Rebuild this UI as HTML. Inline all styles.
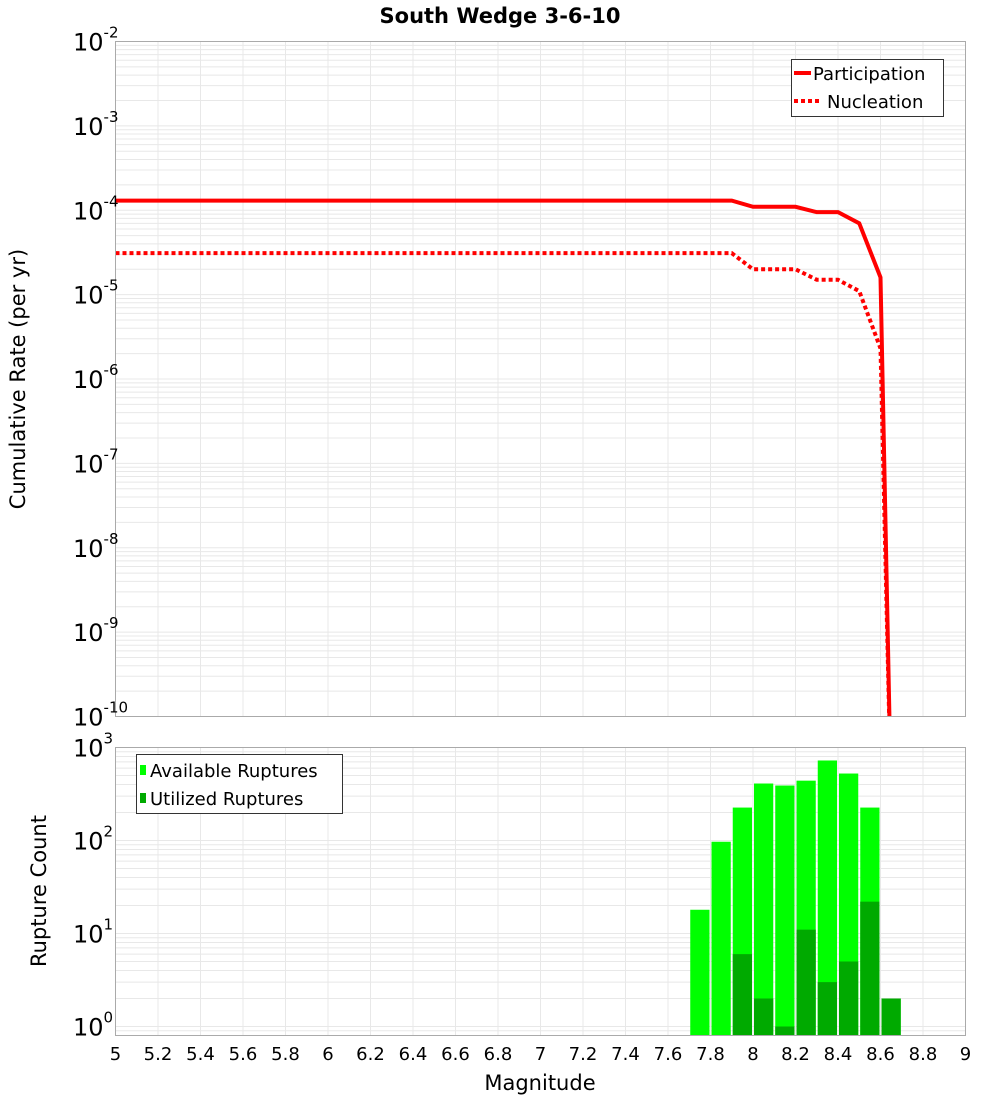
<!DOCTYPE html>
<html><head><meta charset="utf-8"><style>
html,body{margin:0;padding:0;background:#fff;}
svg{display:block;font-family:"DejaVu Sans","Liberation Sans",sans-serif;}
</style></head><body>
<svg id="chart" width="1000" height="1100" xmlns="http://www.w3.org/2000/svg"></svg>
<script>
// ---- data ----
const rateMags = [5.0,5.1,5.2,5.3,5.4,5.5,5.6,5.7,5.8,5.9,6.0,6.1,6.2,6.3,6.4,6.5,6.6,6.7,6.8,6.9,7.0,7.1,7.2,7.3,7.4,7.5,7.6,7.7,7.8,7.9,8.0,8.1,8.2,8.3,8.4,8.5,8.6,8.65];
const participation = [1.3e-4,1.3e-4,1.3e-4,1.3e-4,1.3e-4,1.3e-4,1.3e-4,1.3e-4,1.3e-4,1.3e-4,1.3e-4,1.3e-4,1.3e-4,1.3e-4,1.3e-4,1.3e-4,1.3e-4,1.3e-4,1.3e-4,1.3e-4,1.3e-4,1.3e-4,1.3e-4,1.3e-4,1.3e-4,1.3e-4,1.3e-4,1.3e-4,1.3e-4,1.3e-4,1.1e-4,1.1e-4,1.1e-4,9.5e-5,9.5e-5,7e-5,1.6e-5,1e-11];
const nucleation = [3.1e-5,3.1e-5,3.1e-5,3.1e-5,3.1e-5,3.1e-5,3.1e-5,3.1e-5,3.1e-5,3.1e-5,3.1e-5,3.1e-5,3.1e-5,3.1e-5,3.1e-5,3.1e-5,3.1e-5,3.1e-5,3.1e-5,3.1e-5,3.1e-5,3.1e-5,3.1e-5,3.1e-5,3.1e-5,3.1e-5,3.1e-5,3.1e-5,3.1e-5,3.1e-5,2e-5,2e-5,2e-5,1.5e-5,1.5e-5,1.1e-5,2.3e-6,1e-11];
const barMags = [7.7,7.8,7.9,8.0,8.1,8.2,8.3,8.4,8.5,8.6];
const available = [18,97,226,410,390,440,725,525,226,2];
const utilized = [0,0,6,2,1,11,3,5,22,2];
const xTicks = [5,5.2,5.4,5.6,5.8,6,6.2,6.4,6.6,6.8,7,7.2,7.4,7.6,7.8,8,8.2,8.4,8.6,8.8,9];
const topDecades = [-2,-3,-4,-5,-6,-7,-8,-9,-10];
const botDecades = [3,2,1,0];

const svg = document.getElementById('chart');
const NS = 'http://www.w3.org/2000/svg';
function mk(tag, attrs, parent, text){
  const e = document.createElementNS(NS, tag);
  for (const k in attrs) e.setAttribute(k, attrs[k]);
  if (text !== undefined) e.textContent = text;
  (parent||svg).appendChild(e);
  return e;
}
const L = 115.5, R = 965.5;
const xS = m => L + (m - 5) / 4 * (R - L);
const T1 = 41.5, B1 = 716.5;
const yTop = v => T1 + (-2 - Math.log10(v)) / 8 * (B1 - T1);
const T2 = 747.5, B2 = 1035.5, DEC2 = 93;
const yBot = v => T2 + (3 - Math.log10(v)) * DEC2;

// title
const title = mk('text',{x:500,y:23,'text-anchor':'middle','font-size':21,'font-weight':'bold'},svg,'South Wedge 3-6-10');



function grid(T,B,yf,dmin,dmax,name){
  const g = mk('g',{stroke:'#e8e8e8','stroke-width':1});
  
  
  for (let d=dmin; d<dmax; d++) for (let k=1;k<10;k++){
    const y = yf(k*Math.pow(10,d));
    if (y>=T && y<=B) mk('line',{x1:L,x2:R,y1:y,y2:y},g);
  }
  xTicks.forEach(t=>{ const x=xS(t); mk('line',{x1:x,x2:x,y1:T,y2:B},g); });
}
grid(T1,B1,yTop,-10,-2,'top-grid');
grid(T2,B2,yBot,-1,3,'bottom-grid');

const defs = mk('defs',{});
const cp = mk('clipPath',{id:'clipTop'},defs);
mk('rect',{x:L,y:T1,width:R-L,height:B1-T1},cp);
function lineOf(vals, dash, name){
  let d='';
  rateMags.forEach((m,i)=>{ d += (i?'L':'M') + xS(m).toFixed(2) + ',' + yTop(vals[i]).toFixed(2); });
  const p = mk('path',{d:d,fill:'none',stroke:'#ff0000','stroke-width':4,'stroke-dasharray':dash,'clip-path':'url(#clipTop)'});
  
  
}
lineOf(nucleation,'4,3','nucleation-line');
lineOf(participation,'none','participation-line');

// bottom bars (bar spans [m, m+0.1])
const bw = (R-L)/40;
const bars = mk('g',{});


barMags.forEach((m,i)=>{
  const x0 = xS(m) + 1, w = bw - 2;
  if (available[i] > 0){
    const y = yBot(available[i]);
    const r = mk('rect',{x:x0,y:y,width:w,height:B2-y,fill:'#00ff00'},bars);
    
    
  }
  if (utilized[i] > 0){
    const y = yBot(utilized[i]);
    const r = mk('rect',{x:x0,y:y,width:w,height:B2-y,fill:'#00aa00'},bars);
    
    
  }
});

// frames
const f1 = mk('rect',{x:L,y:T1,width:R-L,height:B1-T1,fill:'none',stroke:'#aaa'});


const f2 = mk('rect',{x:L,y:T2,width:R-L,height:B2-T2,fill:'none',stroke:'#aaa'});



// y tick labels
function ylabels(decs, yf, name){
  const g = mk('g',{fill:'#000'});
  
  
  decs.forEach(d=>{
    const y = yf(Math.pow(10,d));
    const t = mk('text',{x:73,y:y+9,'font-size':24},g);
    mk('tspan',{},t,'10');
    mk('tspan',{dy:-13,'font-size':15},t,String(d));
  });
}
ylabels(topDecades, yTop, 'top-y-tick-labels');
ylabels(botDecades, yBot, 'bottom-y-tick-labels');

// x tick labels
const xl = mk('g',{'font-size':18,'text-anchor':'middle'});


xTicks.forEach(t=>{ mk('text',{x:xS(t),y:1060},xl,String(+t.toFixed(1))); });

// axis titles
const xt = mk('text',{x:540,y:1090,'font-size':21,'text-anchor':'middle'},svg,'Magnitude');


const yt1 = mk('text',{x:0,y:0,'font-size':21,'text-anchor':'middle',transform:'translate(25,379) rotate(-90)'},svg,'Cumulative Rate (per yr)');


const yt2 = mk('text',{x:0,y:0,'font-size':21,'text-anchor':'middle',transform:'translate(46,891) rotate(-90)'},svg,'Rupture Count');



// legends
const lg1 = mk('g',{});


mk('rect',{x:791.5,y:59.5,width:152,height:57,fill:'#fff',stroke:'#333'},lg1);
mk('line',{x1:794,x2:811,y1:73,y2:73,stroke:'#f00','stroke-width':4},lg1);
mk('text',{x:813,y:80,'font-size':18},lg1,'Participation');
mk('line',{x1:794,x2:822,y1:101,y2:101,stroke:'#f00','stroke-width':4,'stroke-dasharray':'4,3'},lg1);
mk('text',{x:827,y:108,'font-size':18},lg1,'Nucleation');

const lg2 = mk('g',{});


mk('rect',{x:136.5,y:754.5,width:206,height:59,fill:'#fff',stroke:'#333'},lg2);
mk('rect',{x:140,y:765,width:6,height:10,fill:'#00ff00'},lg2);
mk('text',{x:150,y:777,'font-size':18},lg2,'Available Ruptures');
mk('rect',{x:140,y:793,width:6,height:10,fill:'#00aa00'},lg2);
mk('text',{x:150,y:805,'font-size':18},lg2,'Utilized Ruptures');
</script>
</body></html>
